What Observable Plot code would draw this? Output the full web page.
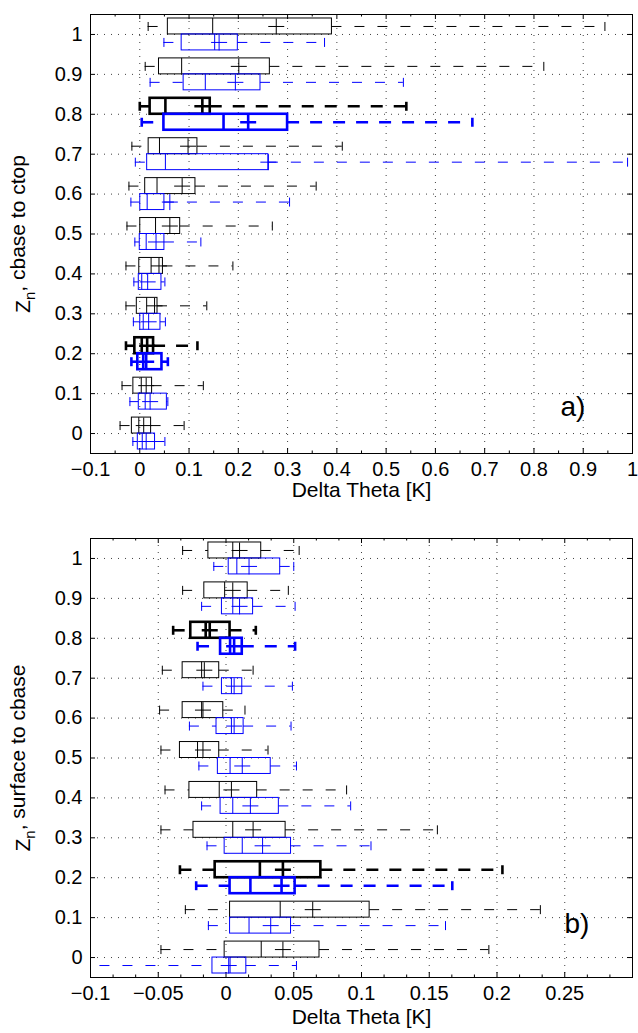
<!DOCTYPE html>
<html>
<head>
<meta charset="utf-8">
<script src="https://cdn.jsdelivr.net/npm/d3@7"></script>
<script src="https://cdn.jsdelivr.net/npm/@observablehq/plot@0.6"></script>
<style>
  html, body { margin: 0; padding: 0; background: #fff; }
  #chart svg { display: block; }
</style>
</head>
<body>
<div id="chart"></div>
<script>
// ---------- data ----------
const zLevels = [0, 0.1, 0.2, 0.3, 0.4, 0.5, 0.6, 0.7, 0.8, 0.9, 1.0];
const thickLevels = [0.2, 0.8];

// Panel a) cbase to ctop — black series
const aBlackLo   = [-0.040, -0.036, -0.028, -0.028, -0.028, -0.026, -0.022, -0.016, 0.000, 0.011, 0.017];
const aBlackQ1   = [-0.016, -0.013, -0.010, -0.006, -0.001,  0.001,  0.011,  0.018, 0.021, 0.039, 0.057];
const aBlackMed  = [-0.002,  0.003,  0.004,  0.014,  0.023,  0.032,  0.035,  0.040, 0.052, 0.085, 0.148];
const aBlackMean = [ 0.008,  0.013,  0.015,  0.030,  0.039,  0.061,  0.086,  0.098, 0.127, 0.201, 0.277];
const aBlackQ3   = [ 0.023,  0.025,  0.028,  0.036,  0.047,  0.082,  0.113,  0.117, 0.143, 0.264, 0.390];
const aBlackHi   = [ 0.090,  0.129,  0.117,  0.136,  0.189,  0.269,  0.358,  0.411, 0.541, 0.820, 0.944];
// Panel a) — blue series
const aBlueLo    = [-0.014, -0.020, -0.017, -0.013, -0.012, -0.010, -0.018, -0.009, 0.004, 0.021, 0.049];
const aBlueQ1    = [-0.004, -0.002, -0.004,  0.001, -0.002,  0.000,  0.001,  0.015, 0.049, 0.089, 0.085];
const aBlueMed   = [ 0.005,  0.011,  0.007,  0.007,  0.004,  0.013,  0.015,  0.052, 0.170, 0.133, 0.152];
const aBlueMean  = [ 0.013,  0.021,  0.013,  0.018,  0.016,  0.033,  0.061,  0.261, 0.220, 0.194, 0.161];
const aBlueQ3    = [ 0.031,  0.055,  0.045,  0.042,  0.044,  0.050,  0.050,  0.261, 0.300, 0.245, 0.199];
const aBlueHi    = [ 0.051,  0.057,  0.057,  0.052,  0.051,  0.124,  0.304,  0.990, 0.675, 0.535, 0.375];

// Panel b) surface to cbase — black series
const bBlackLo   = [-0.048, -0.030, -0.034, -0.048, -0.045, -0.048, -0.049, -0.047, -0.039, -0.032, -0.032];
const bBlackQ1   = [-0.001,  0.003, -0.008, -0.024, -0.027, -0.034, -0.032, -0.032, -0.026, -0.016, -0.013];
const bBlackMed  = [ 0.026,  0.040,  0.025,  0.005, -0.005, -0.021, -0.018, -0.018, -0.015, -0.001,  0.005];
const bBlackMean = [ 0.042,  0.064,  0.042,  0.020,  0.004, -0.017, -0.017, -0.016, -0.012,  0.005,  0.010];
const bBlackQ3   = [ 0.069,  0.106,  0.070,  0.044,  0.023, -0.005, -0.002, -0.005,  0.003,  0.016,  0.026];
const bBlackHi   = [ 0.194,  0.232,  0.204,  0.156,  0.089,  0.031,  0.014,  0.020,  0.022,  0.046,  0.054];
// Panel b) — blue series
const bBlueLo    = [-0.110, -0.013, -0.022, -0.014, -0.018, -0.020, -0.027, -0.017, -0.021, -0.018, -0.009];
const bBlueQ1    = [-0.010,  0.003,  0.003, -0.001, -0.004, -0.006, -0.007, -0.003, -0.004, -0.003,  0.002];
const bBlueMed   = [ 0.003,  0.017,  0.018,  0.012,  0.005,  0.003,  0.004,  0.004,  0.003,  0.005,  0.008];
const bBlueMean  = [ 0.002,  0.033,  0.041,  0.027,  0.018,  0.012,  0.006,  0.006,  0.006,  0.010,  0.017];
const bBlueQ3    = [ 0.015,  0.048,  0.051,  0.048,  0.039,  0.033,  0.013,  0.012,  0.012,  0.020,  0.040];
const bBlueHi    = [ 0.052,  0.162,  0.167,  0.107,  0.092,  0.052,  0.048,  0.049,  0.051,  0.051,  0.050];

// ticks & labels
const yTicks = [0, 0.1, 0.2, 0.3, 0.4, 0.5, 0.6, 0.7, 0.8, 0.9, 1];
const yLabels = ["0", "0.1", "0.2", "0.3", "0.4", "0.5", "0.6", "0.7", "0.8", "0.9", "1"];
const xTicksA = [-0.1, 0, 0.1, 0.2, 0.3, 0.4, 0.5, 0.6, 0.7, 0.8, 0.9, 1];
const xLabelsA = ["\u22120.1", "0", "0.1", "0.2", "0.3", "0.4", "0.5", "0.6", "0.7", "0.8", "0.9", "1"];
const xTicksB = [-0.1, -0.05, 0, 0.05, 0.1, 0.15, 0.2, 0.25];
const xLabelsB = ["\u22120.1", "\u22120.05", "0", "0.05", "0.1", "0.15", "0.2", "0.25"];
const xTitle = "Delta Theta [K]";
const yTitleA = ["Z", "n", ", cbase to ctop"];
const yTitleB = ["Z", "n", ", surface to cbase"];
const panelTags = ["a)", "b)"];

// ---------- helpers ----------
const FONT = "'Liberation Sans', Arial, Helvetica, sans-serif";
const BLACK = "#000000";
const BLUE = "#0000ff";
const TICK_FS = 20, TITLE_FS = 21, TAG_FS = 28;

const plusSymbol = {
  draw(ctx, size) {
    const r = Math.sqrt(size / Math.PI);
    ctx.moveTo(-r, 0); ctx.lineTo(r, 0);
    ctx.moveTo(0, -r); ctx.lineTo(0, r);
  }
};
const capSymbol = {
  draw(ctx, size) {
    const r = Math.sqrt(size / Math.PI);
    ctx.moveTo(0, -r); ctx.lineTo(0, r);
  }
};

function buildRows(lo, q1, med, mean, q3, hi, side) {
  // side: +1 box above tick (black), -1 box below tick (blue)
  return zLevels.map((z, i) => ({
    z, lo: lo[i], q1: q1[i], med: med[i], mean: mean[i], q3: q3[i], hi: hi[i],
    yc: z + side * 0.02,
    y1: side > 0 ? z : z - 0.04,
    y2: side > 0 ? z + 0.04 : z
  }));
}

function boxMarks(rows, color) {
  const marks = [];
  for (const thick of [false, true]) {
    const sub = rows.filter(d => thickLevels.includes(Math.round(d.z * 10) / 10) === thick);
    const w = thick ? 2.6 : 1;
    const dash = thick ? "12,11" : "10,13";
    const common = {stroke: color, strokeWidth: w};
    marks.push(
      Plot.ruleY(sub, {x1: "lo", x2: "q1", y: "yc", ...common, strokeDasharray: dash, clip: true}),
      Plot.ruleY(sub, {x1: "q3", x2: "hi", y: "yc", ...common, strokeDasharray: dash, clip: true}),
      Plot.dot(sub, {x: "lo", y: "yc", symbol: capSymbol, r: 4.5, fill: "none", ...common, clip: true}),
      Plot.dot(sub, {x: "hi", y: "yc", symbol: capSymbol, r: 4.5, fill: "none", ...common, clip: true}),
      Plot.rect(sub, {x1: "q1", x2: "q3", y1: "y1", y2: "y2", fill: "none", ...common}),
      Plot.ruleX(sub, {x: "med", y1: "y1", y2: "y2", ...common}),
      Plot.dot(sub, {x: "mean", y: "yc", symbol: plusSymbol, r: 8, fill: "none", ...common})
    );
  }
  return marks;
}

function minorBetween(ticks, n) {
  const out = [];
  for (let i = 0; i < ticks.length - 1; i++) {
    for (let k = 1; k < n; k++) out.push(ticks[i] + (ticks[i + 1] - ticks[i]) * k / n);
  }
  return out;
}

function panel({height, marginTop, marginBottom, xDomain, xTicks, xLabels, xMinor, yTitle, tag,
                blackRows, blueRows, xLabelDy, xTitleDy, tagDx, tagDy}) {
  const marginLeft = 90, marginRight = 6, width = 638;
  const innerH = height - marginTop - marginBottom;
  const innerW = width - marginLeft - marginRight;
  const gridStyle = {stroke: "#000", strokeOpacity: 0.75, strokeDasharray: "1,6"};
  const svg = Plot.plot({
    width, height, marginLeft, marginRight, marginTop, marginBottom,
    style: {fontFamily: FONT, fontSize: "16px", background: "#fff", overflow: "visible"},
    x: {domain: xDomain, axis: null},
    y: {domain: [-0.05, 1.05], axis: null},
    marks: [
      // dotted grid
      Plot.ruleX(xTicks.filter(t => t > xDomain[0]), gridStyle),
      Plot.ruleY(yTicks, gridStyle),
      // inward ticks (bottom/top/left/right)
      Plot.ruleX(xTicks, {insetTop: innerH - 5, stroke: "#000"}),
      Plot.ruleX(xTicks, {insetBottom: innerH - 5, stroke: "#000"}),
      Plot.ruleX(xMinor, {insetTop: innerH - 2.5, stroke: "#000"}),
      Plot.ruleX(xMinor, {insetBottom: innerH - 2.5, stroke: "#000"}),
      Plot.ruleY(yTicks, {insetRight: innerW - 5, stroke: "#000"}),
      Plot.ruleY(yTicks, {insetLeft: innerW - 5, stroke: "#000"}),
      // boxes
      ...boxMarks(blackRows, BLACK),
      ...boxMarks(blueRows, BLUE),
      Plot.frame({stroke: "#000", strokeWidth: 1}),
      // tick labels
      Plot.text(xTicks, {x: d => d, text: (d, i) => xLabels[i], frameAnchor: "bottom", dy: xLabelDy, fontSize: TICK_FS}),
      Plot.text(yTicks, {y: d => d, text: (d, i) => yLabels[i], frameAnchor: "left", textAnchor: "end", dx: -8, fontSize: TICK_FS}),
      // titles
      Plot.text([xTitle], {text: d => d, frameAnchor: "bottom", dy: xTitleDy, fontSize: TITLE_FS}),
      Plot.text([yTitle.join("")], {x: xDomain[0], y: 0.5, text: d => d, textAnchor: "middle", rotate: -90, dx: -67, fontSize: TITLE_FS}),
      Plot.text([tag], {text: d => d, frameAnchor: "bottom-right", textAnchor: "start", lineAnchor: "bottom", dx: tagDx, dy: tagDy, fontSize: TAG_FS})
    ]
  });
  // subscript n in the y title
  const full = yTitle.join("");
  svg.querySelectorAll("text").forEach(t => {
    if (t.textContent === full) {
      t.textContent = "";
      const ns = "http://www.w3.org/2000/svg";
      const a = document.createElementNS(ns, "tspan"); a.textContent = yTitle[0];
      const b = document.createElementNS(ns, "tspan"); b.textContent = yTitle[1];
      b.setAttribute("dy", "0.35em"); b.setAttribute("font-size", "15px");
      const c = document.createElementNS(ns, "tspan"); c.textContent = yTitle[2];
      c.setAttribute("dy", "-0.5em");
      t.append(a, b, c);
    }
  });
  return svg;
}

const chart = document.getElementById("chart");
chart.append(panel({
  height: 520, marginTop: 14, marginBottom: 67,
  xDomain: [-0.1, 1], xTicks: xTicksA, xLabels: xLabelsA, xMinor: minorBetween(xTicksA, 2),
  yTitle: yTitleA, tag: panelTags[0],
  blackRows: buildRows(aBlackLo, aBlackQ1, aBlackMed, aBlackMean, aBlackQ3, aBlackHi, 1),
  blueRows: buildRows(aBlueLo, aBlueQ1, aBlueMed, aBlueMean, aBlueQ3, aBlueHi, -1),
  xLabelDy: 22, xTitleDy: 43, tagDx: -72, tagDy: -38
}));
chart.append(panel({
  height: 513, marginTop: 18, marginBottom: 56,
  xDomain: [-0.1, 0.3], xTicks: xTicksB, xLabels: xLabelsB, xMinor: minorBetween(xTicksB.concat([0.3]), 3),
  yTitle: yTitleB, tag: panelTags[1],
  blackRows: buildRows(bBlackLo, bBlackQ1, bBlackMed, bBlackMean, bBlackQ3, bBlackHi, 1),
  blueRows: buildRows(bBlueLo, bBlueQ1, bBlueMed, bBlueMean, bBlueQ3, bBlueHi, -1),
  xLabelDy: 22, xTitleDy: 46, tagDx: -68, tagDy: -45
}));
</script>
</body>
</html>
